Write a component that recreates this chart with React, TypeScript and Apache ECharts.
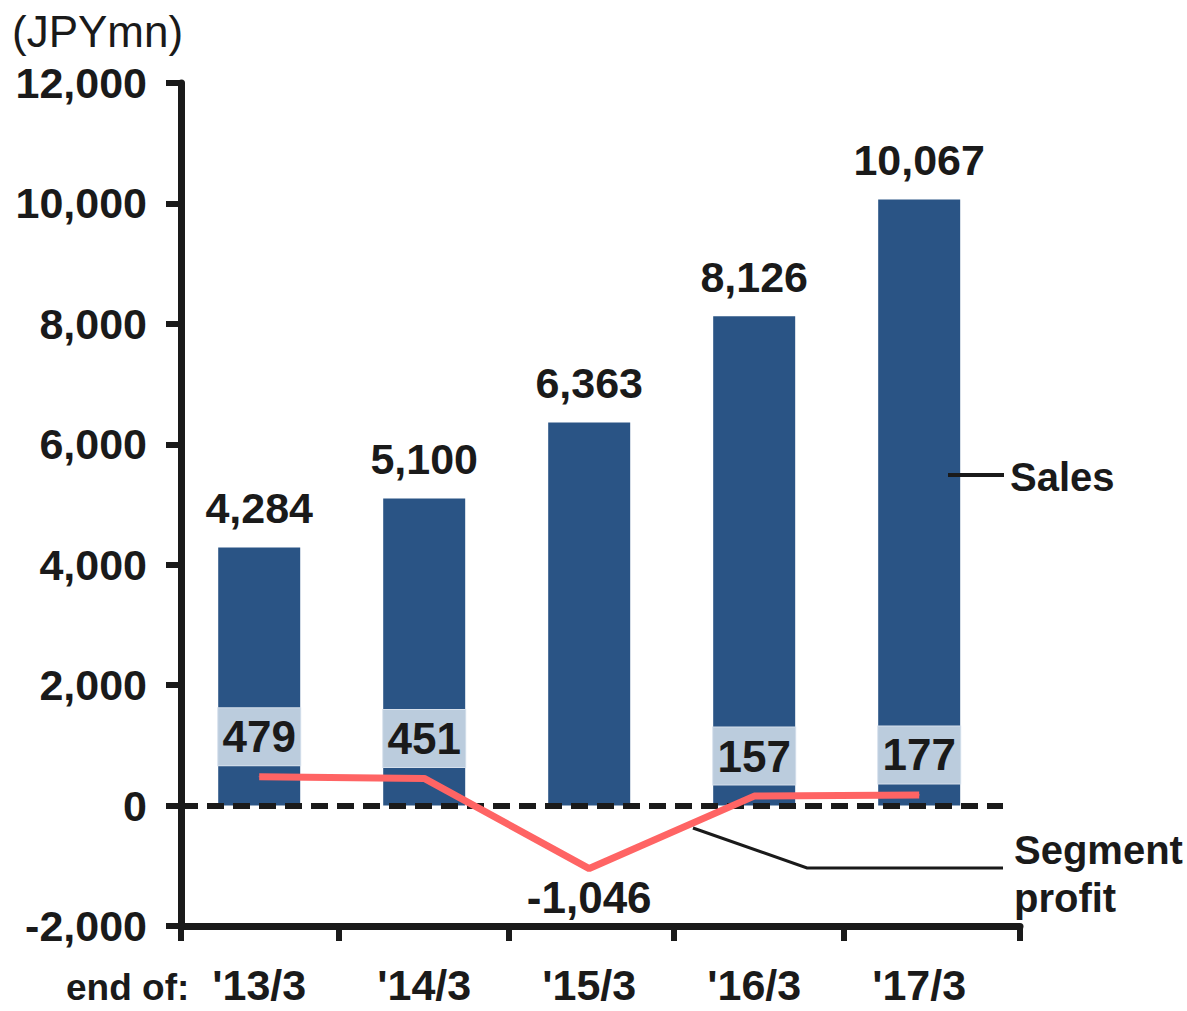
import React, { useEffect, useRef } from "react";
import * as echarts from "echarts";

// Fiscal year ends shown on the horizontal axis
const categories = ["'13/3", "'14/3", "'15/3", "'16/3", "'17/3"];
// Sales (JPY mn)
const sales = [4284, 5100, 6363, 8126, 10067];
// Segment profit (JPY mn)
const segmentProfit = [479, 451, -1046, 157, 177];
// Vertical axis range and step
const yMin = -2000;
const yMax = 12000;
const yStep = 2000;
// Category band edges on the horizontal axis (in category-index units)
const xMin = -0.474;
const xMax = 4.611;
const bandEdges = [xMin, 0.48, 1.51, 2.51, 3.54, xMax];
const zeroLineEnd = 4.508;

const FONT = "'Liberation Sans', Arial, Helvetica, sans-serif";
const INK = "#1a1a1a";
const BAR = "#2A5485";
const PROFIT = "#FF6464";

const fmt = (v: number) => v.toLocaleString("en-US");

export default function App() {
  const ref = useRef<HTMLDivElement>(null);

  useEffect(() => {
    document.body.style.margin = "0";
    if (!ref.current) return;
    const chart = echarts.init(ref.current, undefined, { renderer: "svg" });

    const profitData = segmentProfit.map((v, i) => {
      if (v < 0) {
        return {
          value: [i, v],
          label: {
            position: "bottom",
            distance: 6,
            backgroundColor: "transparent",
            borderWidth: 0,
            padding: 0,
            width: undefined,
          },
        };
      }
      return { value: [i, v] };
    });

    chart.setOption({
      animation: false,
      textStyle: { fontFamily: FONT },
      grid: { left: 181, right: 167, top: 83, bottom: 85, containLabel: false },
      xAxis: {
        type: "value",
        min: xMin,
        max: xMax,
        splitLine: { show: false },
        axisLine: { onZero: false, lineStyle: { color: INK, width: 7 } },
        axisTick: {
          show: true,
          customValues: bandEdges,
          length: 15,
          lineStyle: { color: INK, width: 6 },
        },
        axisLabel: {
          customValues: categories.map((_, i) => i),
          formatter: (v: number) => categories[Math.round(v)] ?? "",
          color: INK,
          fontFamily: FONT,
          fontWeight: "bold",
          fontSize: 43,
          margin: 37,
        },
      },
      yAxis: {
        type: "value",
        min: yMin,
        max: yMax,
        interval: yStep,
        splitLine: { show: false },
        axisLine: { show: true, onZero: false, lineStyle: { color: INK, width: 7 } },
        axisTick: { show: true, length: 15, lineStyle: { color: INK, width: 6 } },
        axisLabel: {
          formatter: (v: number) => fmt(v),
          color: INK,
          fontFamily: FONT,
          fontWeight: "bold",
          fontSize: 43,
          margin: 34,
          padding: [10, 0, 0, 0],
        },
      },
      series: [
        {
          name: "Sales",
          type: "bar",
          barWidth: 82,
          data: sales.map((v, i) => [i, v]),
          itemStyle: { color: BAR },
          label: {
            show: true,
            position: "top",
            distance: 18,
            formatter: (p: any) => fmt(p.value[1]),
            color: INK,
            fontFamily: FONT,
            fontWeight: "bold",
            fontSize: 43,
          },
          markLine: {
            silent: true,
            symbol: "none",
            label: { show: false },
            lineStyle: { color: INK, width: 6, type: [17, 9] },
            data: [
              [
                { coord: [xMin, 0] },
                { coord: [zeroLineEnd, 0] },
              ],
            ],
          },
        },
        {
          name: "Segment profit",
          type: "line",
          data: profitData,
          symbol: "circle",
          symbolSize: 1,
          itemStyle: { color: PROFIT },
          lineStyle: { color: PROFIT, width: 7 },
          z: 5,
          label: {
            show: true,
            position: "top",
            distance: 11,
            formatter: (p: any) => fmt(p.value[1]),
            color: INK,
            fontFamily: FONT,
            fontWeight: "bold",
            fontSize: 44,
            lineHeight: 45,
            width: 82,
            align: "center",
            backgroundColor: "#BBCCDD",
            borderColor: "#D6E0EC",
            borderWidth: 1,
            padding: [6, 0, 6, 0],
          },
        },
      ],
      graphic: [
        {
          type: "text",
          x: 12,
          y: 31,
          style: {
            text: "(JPYmn)",
            font: `44px ${FONT}`,
            fill: INK,
            textVerticalAlign: "middle",
          },
        },
        {
          type: "text",
          x: 66,
          y: 987,
          style: {
            text: "end of:",
            font: `bold 37px ${FONT}`,
            fill: INK,
            textVerticalAlign: "middle",
          },
        },
        {
          type: "polyline",
          shape: { points: [[948, 475], [1004, 475]] },
          style: { stroke: INK, lineWidth: 4, fill: "none" },
          z: 10,
        },
        {
          type: "text",
          x: 1010,
          y: 477,
          style: {
            text: "Sales",
            font: `bold 40px ${FONT}`,
            fill: INK,
            textVerticalAlign: "middle",
          },
        },
        {
          type: "polyline",
          shape: { points: [[693, 828], [807, 868], [1003, 868]] },
          style: { stroke: INK, lineWidth: 3, fill: "none" },
          z: 10,
        },
        {
          type: "text",
          x: 1014,
          y: 850,
          style: {
            text: "Segment",
            font: `bold 40px ${FONT}`,
            fill: INK,
            textVerticalAlign: "middle",
          },
        },
        {
          type: "text",
          x: 1014,
          y: 898,
          style: {
            text: "profit",
            font: `bold 40px ${FONT}`,
            fill: INK,
            textVerticalAlign: "middle",
          },
        },
      ],
    });

    return () => chart.dispose();
  }, []);

  return <div ref={ref} style={{ width: 1187, height: 1011 }} />;
}
